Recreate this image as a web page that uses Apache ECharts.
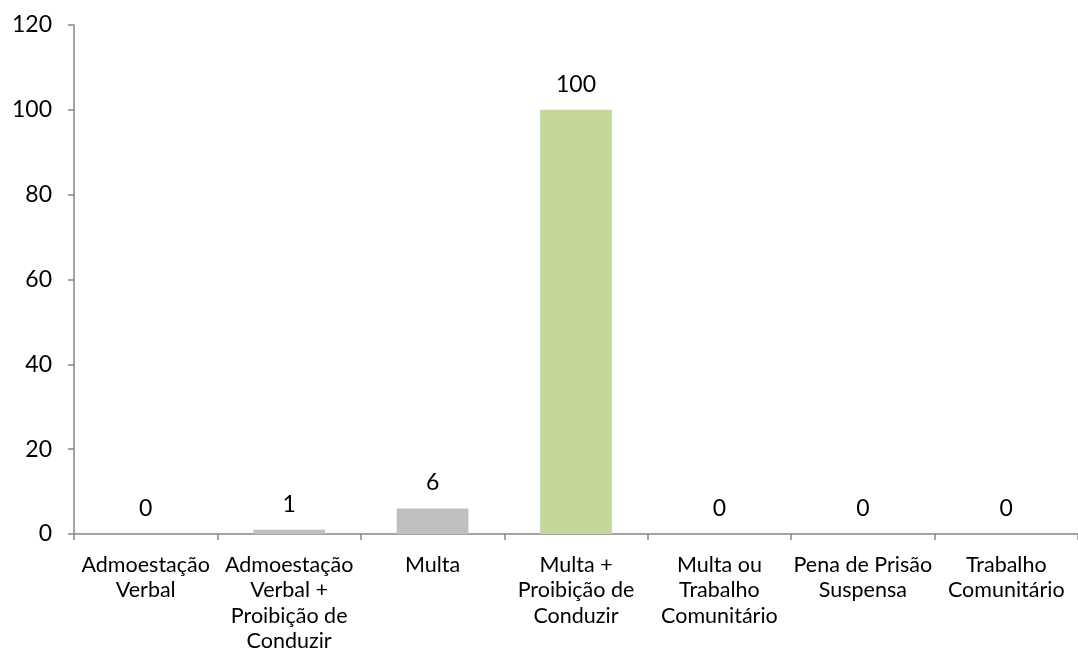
<!DOCTYPE html>
<html>
<head>
<meta charset="utf-8">
<script src="https://cdn.jsdelivr.net/npm/echarts@6/dist/echarts.min.js"></script>
<style>
  html, body { margin: 0; padding: 0; background: #fff; }
  #chart { width: 1078px; height: 664px; }
</style>
</head>
<body>
<div id="chart"></div>
<script>
// categorias (eixo x)
var categories = [
  'Admoestação\nVerbal',
  'Admoestação\nVerbal +\nProibição de\nConduzir',
  'Multa',
  'Multa +\nProibição de\nConduzir',
  'Multa ou\nTrabalho\nComunitário',
  'Pena de Prisão\nSuspensa',
  'Trabalho\nComunitário'
];
// valores
var values = [0, 1, 6, 100, 0, 0, 0];
// eixo y
var yMin = 0, yMax = 120, yStep = 20;
var highlightIndex = 3;

var myChart = echarts.init(document.getElementById('chart'));
var font = 'Lato, "Open Sans", sans-serif';
myChart.setOption({
  animation: false,
  grid: { left: 74, top: 25, width: 1015, height: 509, containLabel: false },
  xAxis: {
    type: 'category',
    data: categories,
    axisLine: { lineStyle: { color: '#868686', width: 1.5 } },
    axisTick: { show: true, length: 6, lineStyle: { color: '#868686', width: 1.5 } },
    axisLabel: {
      color: '#000', fontFamily: font, fontSize: 21.5, lineHeight: 25.5,
      margin: 18, interval: 0
    }
  },
  yAxis: {
    type: 'value',
    min: yMin, max: yMax, interval: yStep,
    axisLine: { show: true, lineStyle: { color: '#868686', width: 1.5 } },
    axisTick: { show: true, length: 6, lineStyle: { color: '#868686', width: 1.5 } },
    splitLine: { show: false },
    axisLabel: { color: '#000', fontFamily: font, fontSize: 23, margin: 22 }
  },
  series: [{
    type: 'bar',
    data: values,
    barWidth: '50%',
    itemStyle: {
      color: function (p) { return p.dataIndex === highlightIndex ? '#c4d79b' : '#bfbfbf'; }
    },
    label: {
      show: true, position: 'top', distance: 14,
      color: '#000', fontFamily: font, fontSize: 23
    }
  }]
});
</script>
</body>
</html>
